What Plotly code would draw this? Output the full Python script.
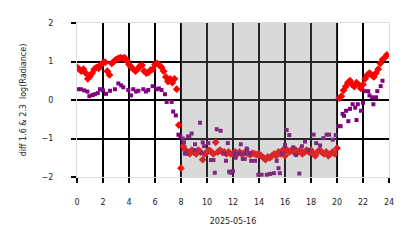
import plotly.graph_objects as go

# Red series: 10-minute steps, values per hour (6 per hour)
red_vals = [
    0.85, 0.80, 0.75, 0.80, 0.70, 0.55,
    0.62, 0.70, 0.80, 0.85, 0.82, 0.92,
    0.97, 0.98, 0.75, 0.65, 0.95, 1.00,
    1.05, 1.08, 1.10, 1.08, 1.10, 1.02,
    0.92, 0.85, 0.80, 0.75, 0.80, 0.88,
    0.90, 0.75, 0.70, 0.72, 0.78, 0.80,
    0.92, 0.95, 0.90, 0.85, 0.75, 0.60,
    0.48, 0.55, 0.45, 0.55, 0.28, -0.65,
    -1.77, -1.20, -1.30, -1.35, -1.40, -1.30,
    -1.35, -1.40, -1.30, -1.35, -1.55, -1.40,
    -1.35, -1.30, -1.35, -1.40, -1.10, -1.35,
    -1.30, -1.35, -1.35, -1.40, -1.35, -1.40,
    -1.40, -1.35, -1.40, -1.35, -1.40, -1.38,
    -1.35, -1.40, -1.42, -1.38, -1.40, -1.42,
    -1.40, -1.45, -1.50, -1.55, -1.48, -1.50,
    -1.45, -1.40, -1.45, -1.35, -1.40, -1.30,
    -1.45, -1.30, -1.35, -1.30, -1.35, -1.30,
    -1.35, -1.30, -1.40, -1.35, -1.30, -1.35,
    -1.30, -1.40, -1.45, -1.35, -1.30, -1.35,
    -1.40, -1.35, -1.45, -1.40, -1.35, -1.40,
    -1.25, 0.05, 0.10, 0.25, 0.35, 0.45,
    0.50, 0.40, 0.35, 0.45, 0.40, 0.30,
    0.40, 0.55, 0.65, 0.70, 0.65, 0.60,
    0.70, 0.80, 0.95, 1.05, 1.10, 1.17,
]
red_hours = [i / 6 for i in range(len(red_vals))]

purple_hours = [
    0.05, 0.3, 0.55, 0.8, 0.95, 1.2, 1.38, 1.6, 1.77, 2.0, 2.23, 2.54, 2.92,
    3.18, 3.4, 3.56, 3.95, 4.15, 4.33, 4.55, 4.72, 5.1, 5.3, 5.48, 5.82, 6.13,
    6.3, 6.5, 6.77, 6.9, 7.28, 7.4, 7.6, 7.8,
    7.95, 8.13, 8.23, 8.3, 8.4, 8.54, 8.64, 8.82, 9.05, 9.08, 9.46, 9.6, 9.67,
    9.77, 10.1, 10.3, 10.5, 10.6, 10.75, 11.05, 11.3, 11.46, 11.6, 11.7, 11.8,
    12.0, 12.1, 12.2, 12.2, 12.5, 12.6, 12.75, 12.9, 12.9, 13.05, 13.1, 13.3,
    13.4, 13.7, 13.95, 14.2, 14.6, 14.85, 15.15, 15.36, 15.5, 15.6, 15.75,
    16.0, 16.13, 16.33, 16.64, 16.85, 17.1, 17.3, 17.54, 17.8, 18.2, 18.4,
    18.7, 18.95, 19.2, 19.4, 19.67, 19.9,
    20.1, 20.28, 20.43, 20.54, 20.7, 20.87, 21.0, 21.2, 21.4, 21.5, 21.6,
    21.85, 22.0, 22.15, 22.4, 22.5, 22.7, 22.8, 23.0, 23.1, 23.36, 23.5,
]
purple_vals = [
    0.28, 0.28, 0.25, 0.22, 0.10, 0.13, 0.15, 0.18, 0.28, 0.25, 0.16, 0.24, 0.28,
    0.43, 0.38, 0.33, 0.26, 0.12, 0.28, 0.22, 0.24, 0.28, 0.22, 0.26, 0.36, 0.28,
    0.30, 0.26, 0.15, -0.05, -0.05, -0.30, -0.40, -0.90,
    -0.95, -1.00, -1.10, -1.39, -1.39, -0.95, -0.95, -0.87, -1.30, -1.15, -0.59, -1.38, -1.10,
    -1.20, -1.12, -1.56, -1.56, -1.89, -0.76, -0.80, -1.39, -1.58, -1.12, -1.86, -1.89,
    -1.85, -1.39, -1.39, -1.50, -1.39, -1.15, -1.53, -1.39, -1.53, -1.26, -1.30, -1.39,
    -1.58, -1.58, -1.94, -1.94, -1.94, -1.92, -1.90, -1.58, -1.77, -1.90, -1.39,
    -1.17, -0.78, -0.91, -1.23, -1.43, -1.91, -1.20, -1.08, -1.30, -0.90, -1.12,
    -1.18, -0.99, -0.90, -0.90, -1.03, -0.91,
    -0.68, -0.68, -0.36, -0.41, -0.28, -0.55, -0.23, -0.11, -0.20, -0.52, -0.11,
    -0.28, -0.07, 0.23, 0.23, 0.12, 0.07, -0.11, 0.07, 0.23, 0.36, 0.50,
]

night_start, night_end = 8, 20
x_ticks = list(range(0, 25, 2))
y_ticks = [-2, -1, 0, 1, 2]

fig = go.Figure()
fig.add_trace(go.Scatter(
    x=red_hours, y=red_vals, mode="markers",
    marker=dict(symbol="diamond", size=6, color="red", line=dict(width=0)),
    showlegend=False,
))
fig.add_trace(go.Scatter(
    x=purple_hours, y=purple_vals, mode="markers",
    marker=dict(symbol="square", size=4, color="purple", line=dict(width=0)),
    showlegend=False,
))
fig.add_shape(type="rect", xref="x", yref="paper", x0=night_start, x1=night_end,
              y0=0, y1=1, fillcolor="rgba(128,128,128,0.3)", line=dict(width=0),
              layer="above")

font = dict(family="DejaVu Sans", size=8, color="#222")
fig.update_layout(
    width=414, height=248,
    margin=dict(l=77, r=25, t=23, b=71),
    paper_bgcolor="white", plot_bgcolor="white",
    font=font,
    xaxis=dict(
        range=[0, 24], tickvals=x_ticks, ticks="outside", ticklen=5, tickwidth=2,
        tickcolor="black", showgrid=True, gridcolor="black", gridwidth=2,
        zeroline=False, showline=True, linecolor="#dddddd", linewidth=1, mirror=True,
        ticklabelstandoff=12,
        title=dict(text="2025-05-16", font=font, standoff=12),
    ),
    yaxis=dict(
        range=[-2, 2], tickvals=y_ticks, ticktext=["\u22122", "\u22121", "0", "1", "2"],
        ticks="outside", ticklen=5, tickwidth=2,
        tickcolor="black", showgrid=True, gridcolor="black", gridwidth=2,
        zeroline=False, showline=True, linecolor="#dddddd", linewidth=1, mirror=True,
        ticklabelstandoff=16,
        title=dict(text="diff 1.6 & 2.3  log(Radiance)", font=font, standoff=13),
    ),
)
fig.write_html("out.html")
